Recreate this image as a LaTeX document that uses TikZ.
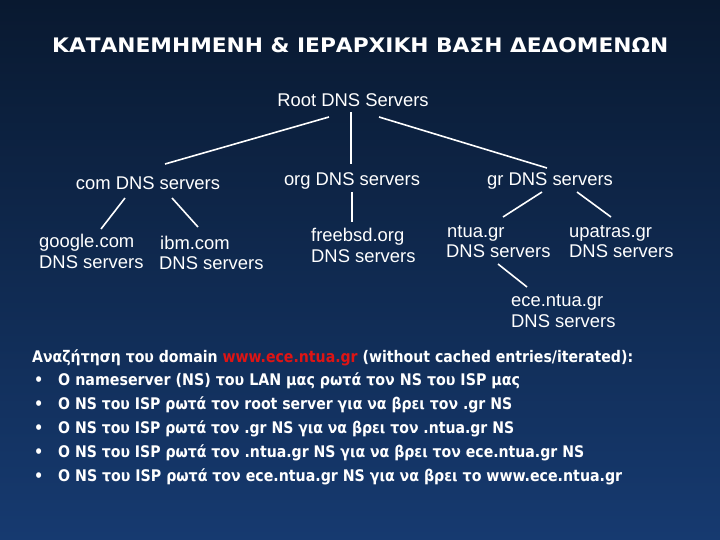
\documentclass[tikz,border=0pt]{standalone}
\usepackage{graphicx}
\usepackage{fontspec}
\setmainfont{Liberation Sans}
\newfontfamily\condbold{DejaVu Sans Condensed}[BoldFont={DejaVu Sans Condensed Bold}]
\newfontfamily\titlefont{DejaVu Sans}[BoldFont={DejaVu Sans Bold}]
\usetikzlibrary{calc}
\definecolor{bgtop}{RGB}{9,25,48}
\definecolor{bgbot}{RGB}{22,58,112}
\definecolor{hl}{RGB}{222,20,20}
\tikzset{
  lbl/.style={text=white, inner sep=0pt, font=\fontsize{18.4}{20.5}\selectfont, align=left},
  conn/.style={draw=white, line width=1.6pt},
  bul/.style={text=white, inner sep=0pt, anchor=base west, font=\condbold\bfseries\fontsize{16}{18}\selectfont}
}
\begin{document}
\begin{tikzpicture}[x=1pt,y=-1pt]
\shade[top color=bgtop, bottom color=bgbot] (0,0) rectangle (720,540);
\useasboundingbox (0,0) rectangle (720,540);
% title
\node[text=white, inner sep=0pt, anchor=base west, font=\titlefont\bfseries\fontsize{20}{24}\selectfont] (title) at (52,53) {\resizebox{616pt}{\height}{ΚΑΤΑΝΕΜΗΜΕΝΗ \& ΙΕΡΑΡΧΙΚΗ ΒΑΣΗ ΔΕΔΟΜΕΝΩΝ}};
% tree
\node[lbl, anchor=base] (root) at (353,106.5) {Root DNS Servers};
\node[lbl, anchor=base] (com) at (148,190) {com DNS servers};
\node[lbl, anchor=base] (org) at (352,186) {org DNS servers};
\node[lbl, anchor=base] (gr) at (550,186) {gr DNS servers};
\node[lbl, anchor=base west] (google) at (39,268) {google.com\\DNS servers};
\node[lbl, anchor=base west] (ibm) at (159,269.5) {\hspace*{1pt}ibm.com\\DNS servers};
\node[lbl, anchor=base west] (freebsd) at (311,262) {freebsd.org\\DNS servers};
\node[lbl, anchor=base west] (ntua) at (446,258) {\hspace*{1pt}ntua.gr\\DNS servers};
\node[lbl, anchor=base west] (upatras) at (569,258) {upatras.gr\\DNS servers};
\node[lbl, anchor=base west] (ece) at (511,327) {ece.ntua.gr\\DNS servers};
% connectors
\draw[conn] ($(root.base)+(-24,10.5)$) -- ($(com.base)+(17,-26)$);
\draw[conn] ($(root.base)+(-2,5.5)$) -- ($(org.base)+(-1,-22)$);
\draw[conn] ($(root.base)+(26,10.5)$) -- ($(gr.base)+(-3,-18)$);
\draw[conn] ($(com.base)+(-23,8)$) -- ($(google.base west)+(62,-39)$);
\draw[conn] ($(com.base)+(24,8)$) -- ($(ibm.base west)+(39,-42.5)$);
\draw[conn] ($(org.base)+(0,6)$) -- ($(freebsd.base west)+(41,-40)$);
\draw[conn] ($(gr.base)+(-8,6)$) -- ($(ntua.base west)+(57,-41)$);
\draw[conn] ($(gr.base)+(27,6)$) -- ($(upatras.base west)+(42,-41)$);
\draw[conn] ($(ntua.base west)+(52,6)$) -- ($(ece.base west)+(16,-40)$);
% bottom text
\node[bul] (q) at (32,362) {\resizebox{601pt}{\height}{Αναζήτηση του domain \textcolor{hl}{www.ece.ntua.gr} (without cached entries/iterated):}};
\foreach \i/\w/\t in {1/462/{O nameserver (NS) του LAN μας ρωτά τον NS του ISP μας},
                   2/454/{O NS του ISP ρωτά τον root server για να βρει τον .gr NS},
                   3/456/{O NS του ISP ρωτά τον .gr NS για να βρει τον .ntua.gr NS},
                   4/526/{O NS του ISP ρωτά τον .ntua.gr NS για να βρει τον ece.ntua.gr NS},
                   5/564/{O NS του ISP ρωτά τον ece.ntua.gr NS για να βρει το www.ece.ntua.gr}}{
  \node[bul] (b\i) at (34,362+23.8*\i) {•};
  \node[bul] (t\i) at (58,362+23.8*\i) {\resizebox{\w pt}{\height}{\t}};
}
\end{tikzpicture}
\end{document}
